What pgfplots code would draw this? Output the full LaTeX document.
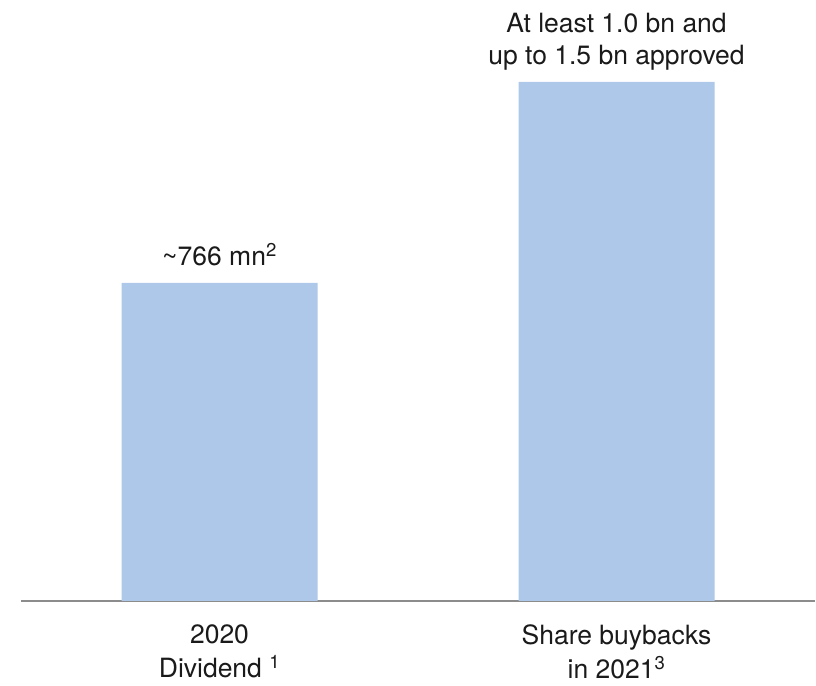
\documentclass[border=0pt]{standalone}
\usepackage{fontspec}
\setmainfont{TeX Gyre Heros}
\usepackage{pgfplots}
\pgfplotsset{compat=1.18}
\definecolor{barblue}{HTML}{ADC8E8}
\definecolor{rulegray}{HTML}{8C8C8C}
\definecolor{textdark}{HTML}{1A1A1A}
\begin{document}
\begin{tikzpicture}
\useasboundingbox (0,0) rectangle (816bp,686bp);
\begin{axis}[
  at={(21bp,85bp)}, anchor=south west,
  scale only axis, width=794bp, height=519bp,
  xmin=-0.5, xmax=1.5, ymin=0, ymax=1250,
  axis x line*=bottom, axis y line=none,
  x axis line style={rulegray, line width=2bp, -},
  xtick={0,1},
  xticklabels={{2020\\Dividend\ \textsuperscript{1}}, {Share buybacks\\in 2021\textsuperscript{3}}},
  xtick style={draw=none},
  xticklabel style={align=center, font=\fontsize{26.5bp}{34bp}\selectfont, text=textdark, anchor=north, yshift=-18bp, inner sep=1bp},
  ytick=\empty,
  ybar, bar width=196bp,
  clip=false,
  nodes near coords,
  point meta=explicit symbolic,
  nodes near coords style={align=center, font=\fontsize{26.5bp}{32bp}\selectfont, text=textdark, anchor=south, yshift=8bp},
]
% bar values in millions
\addplot[fill=barblue, draw=none] coordinates {
  (0,766)  [{\textasciitilde766 mn\textsuperscript{2}\vphantom{p}}]
  (1,1250) [{At least 1.0 bn and\\up to 1.5 bn approved}]
};
\end{axis}
\end{tikzpicture}
\end{document}
